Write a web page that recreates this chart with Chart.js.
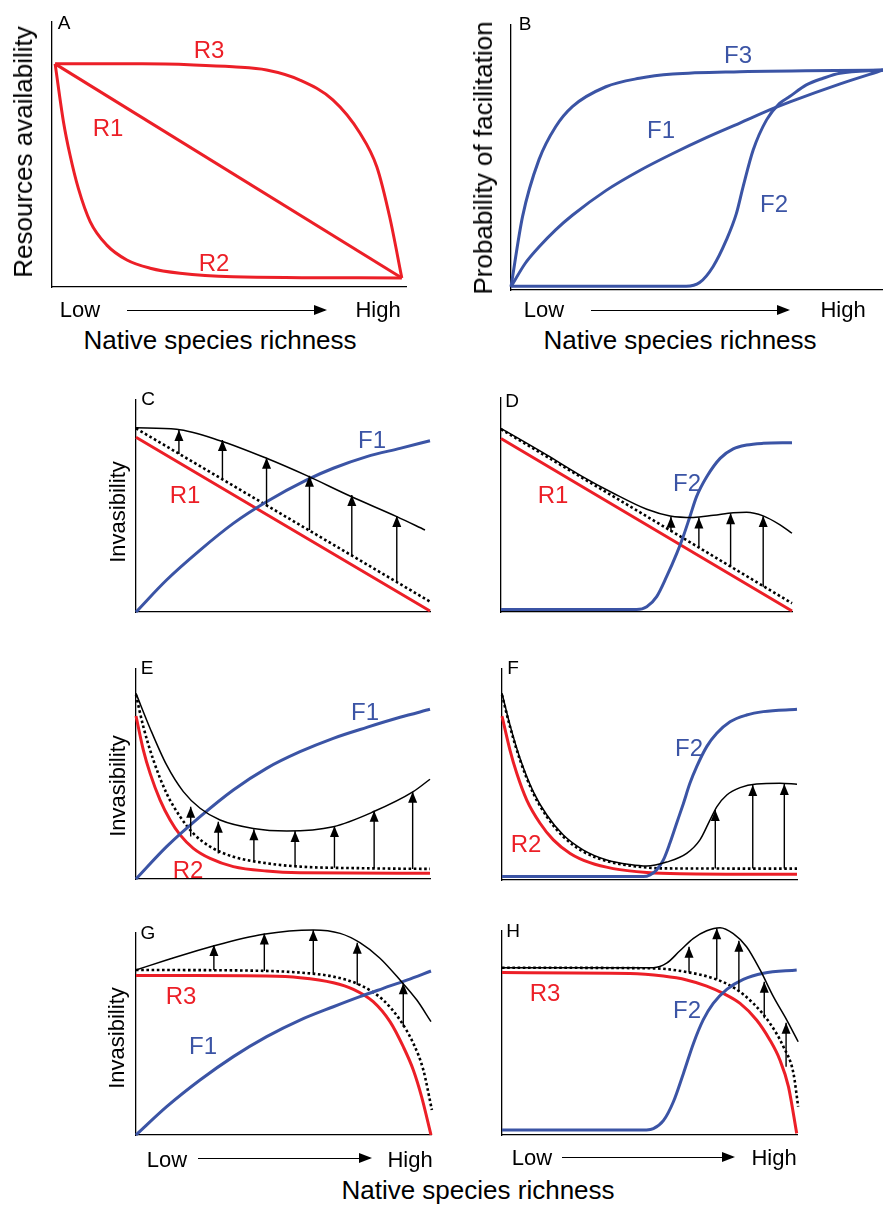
<!DOCTYPE html>
<html>
<head>
<meta charset="utf-8">
<script src="https://cdn.jsdelivr.net/npm/chart.js@4.4.1/dist/chart.umd.min.js"></script>
<style>
body { margin: 0; background: #fff; width: 883px; height: 1209px; position: relative; overflow: hidden;
  font-family: "Liberation Sans", Arial, sans-serif; }
canvas { position: absolute; }
.t { position: absolute; transform: translate(-50%, -50%); white-space: nowrap; line-height: 1; }
.arr { position: absolute; height: 0; border-top: 1.5px solid #000; }
.arr:after { content: ""; position: absolute; right: -2px; top: -5.75px; border-left: 13px solid #000;
  border-top: 5px solid transparent; border-bottom: 5px solid transparent; }
</style>
</head>
<body>
<script>
// curves as [x, y] pairs, x: low -> high richness (0..10), y: 0..10
const aR1 = [[0, 8.42], [10, 0.34]];
const aR2 = [[0, 8.42], [0.24, 6.24], [0.43, 4.98], [0.67, 3.72], [1.01, 2.47], [1.49, 1.58], [2.07, 1.02], [2.74, 0.71], [3.6, 0.52], [5.13, 0.39], [10, 0.34]];
const aR3 = [[0, 8.42], [2.5, 8.42], [4, 8.38], [5.13, 8.31], [6.1, 8.19], [7.06, 7.81], [8.01, 7.06], [8.79, 5.81], [9.28, 4.53], [9.65, 2.64], [10, 0.34]];

const bF1 = [[0, 0.12], [0.38, 1.0], [0.75, 1.62], [1.2, 2.27], [1.65, 2.82], [2.55, 3.75], [3.45, 4.5], [4.35, 5.15], [5.25, 5.75], [6.15, 6.3], [7.05, 6.85], [7.5, 7.1], [8.85, 7.78], [10, 8.3]];
const bF2 = [[0, 0.14], [4.71, 0.14], [5.07, 0.28], [5.43, 0.88], [5.79, 1.89], [6.06, 2.89], [6.24, 3.9], [6.51, 5.28], [6.87, 6.42], [7.22, 7.04], [7.49, 7.3], [7.94, 7.74], [8.39, 7.99], [8.84, 8.18], [10, 8.3]];
const bF3 = [[0, 0.12], [0.31, 2.77], [0.75, 4.91], [1.2, 6.16], [1.65, 6.92], [2.55, 7.67], [3.45, 7.99], [4.35, 8.15], [6.15, 8.24], [10, 8.3]];

const cR1 = [[0, 8.24], [10, 0.05]];
const cDot = [[0, 8.66], [10, 0.49]];
const cInv = [[0, 8.69], [1.38, 8.62], [2.86, 8.08], [4.44, 7.25], [5.81, 6.43], [7.28, 5.47], [8.87, 4.5], [9.83, 3.87]];
const cF1 = [[0, 0], [1.04, 1.51], [2.18, 2.92], [3.31, 4.18], [4.44, 5.2], [5.81, 6.23], [6.71, 6.78], [7.85, 7.33], [8.98, 7.72], [10, 8.08]];
const cArrows = [[1.46, 7.45, 8.58], [2.94, 6.31, 8.11], [4.44, 5.0, 7.28], [5.9, 3.87, 6.43], [7.34, 2.69, 5.52], [8.87, 1.45, 4.53]];

const dR1 = [[0, 8.11], [10, 0.05]];
const dDot = [[0, 8.54], [10, 0.41]];
const dInv = [[0, 8.58], [1.57, 7.34], [2.71, 6.4], [3.86, 5.55], [5.01, 4.8], [5.81, 4.49], [6.61, 4.42], [7.3, 4.52], [7.98, 4.64], [8.44, 4.66], [9.01, 4.49], [9.59, 4.07], [10, 3.68]];
const dF2 = [[0, 0.12], [4.66, 0.12], [5.01, 0.25], [5.35, 0.72], [5.69, 1.65], [6.04, 2.74], [6.26, 3.52], [6.49, 4.45], [6.72, 5.39], [7.07, 6.32], [7.53, 7.18], [7.98, 7.62], [8.44, 7.8], [9.01, 7.88], [10, 7.91]];
const dArrows = [[5.84, 3.75, 4.45], [6.8, 3.02, 4.42], [7.89, 2.12, 4.61], [9.01, 1.18, 4.49]];

const eR2 = [[0, 7.76], [0.25, 6.14], [0.48, 5.03], [0.82, 3.76], [1.16, 2.81], [1.5, 2.1], [1.95, 1.46], [2.52, 0.98], [3.31, 0.59], [4.44, 0.38], [5.58, 0.3], [10, 0.27]];
const eDot = [[0, 8.76], [0.25, 7.25], [0.59, 5.67], [1.04, 4.08], [1.5, 2.97], [1.95, 2.17], [2.52, 1.54], [3.31, 1.06], [4.44, 0.75], [5.58, 0.59], [7.85, 0.51], [10, 0.48]];
const eInv = [[0, 8.84], [0.48, 7.17], [1.04, 5.43], [1.61, 4.16], [2.18, 3.37], [2.86, 2.81], [3.99, 2.41], [5.13, 2.29], [6.71, 2.49], [8.07, 3.2], [9.43, 4.16], [10, 4.75]];
const eF1 = [[0, 0], [1.04, 1.54], [2.18, 2.97], [3.31, 4.24], [4.44, 5.27], [5.58, 6.06], [6.71, 6.7], [7.85, 7.22], [8.98, 7.7], [10, 8.08]];
const eArrows = [[1.86, 2.02, 3.44], [2.8, 1.22, 2.73], [4.01, 0.83, 2.37], [5.41, 0.59, 2.29], [6.75, 0.54, 2.52], [8.1, 0.51, 3.25], [9.41, 0.48, 4.16]];

const fR2 = [[0, 7.77], [0.27, 6.16], [0.5, 5.06], [0.84, 3.79], [1.29, 2.69], [1.74, 1.9], [2.31, 1.26], [2.98, 0.82], [3.77, 0.54], [4.91, 0.36], [6.03, 0.3], [10, 0.27]];
const fDot = [[0, 8.77], [0.27, 7.27], [0.61, 5.69], [1.06, 4.11], [1.52, 3.0], [2.08, 2.05], [2.76, 1.34], [3.55, 0.9], [4.34, 0.68], [5.47, 0.55], [10, 0.54]];
const fInv = [[0, 8.85], [0.27, 7.35], [0.61, 5.77], [1.06, 4.19], [1.52, 3.08], [2.08, 2.13], [2.76, 1.42], [3.55, 0.95], [4.34, 0.73], [4.9, 0.66], [5.58, 0.85], [6.26, 1.26], [6.71, 1.9], [7.05, 2.84], [7.28, 3.47], [7.62, 4.03], [8.07, 4.38], [8.63, 4.55], [9.42, 4.58], [10, 4.54]];
const fF2 = [[0, 0.16], [4.79, 0.16], [5.02, 0.24], [5.24, 0.47], [5.47, 0.95], [5.69, 1.74], [5.92, 2.69], [6.15, 3.63], [6.37, 4.58], [6.6, 5.37], [6.94, 6.32], [7.28, 6.95], [7.73, 7.5], [8.29, 7.82], [8.86, 7.98], [10, 8.09]];
const fArrows = [[7.23, 0.54, 3.32], [8.5, 0.54, 4.5], [9.57, 0.54, 4.55]];

const gR3 = [[0, 7.89], [2, 7.89], [4.43, 7.87], [5.56, 7.79], [6.69, 7.54], [7.37, 7.21], [8.04, 6.6], [8.61, 5.61], [9.06, 4.37], [9.4, 3.22], [9.68, 1.9], [10, 0]];
const gDot = [[0, 8.17], [3.86, 8.14], [5.56, 8.04], [6.69, 7.84], [7.59, 7.43], [8.38, 6.68], [8.95, 5.69], [9.4, 4.54], [9.74, 3.22], [10.03, 1.24]];
const gInv = [[0, 8.17], [1.04, 8.66], [2.62, 9.36], [4.32, 9.94], [6.01, 10.15], [6.92, 9.98], [7.59, 9.52], [8.27, 8.75], [8.95, 7.67], [9.52, 6.68], [10, 5.61]];
const gF1 = [[0, 0], [1.04, 1.4], [2.17, 2.72], [3.3, 3.88], [4.43, 4.87], [5.56, 5.69], [6.69, 6.35], [7.59, 6.85], [8.38, 7.26], [9.18, 7.67], [10, 8.12]];
const gArrows = [[2.64, 8.17, 9.41], [4.35, 8.12, 9.98], [6.01, 8.0, 10.15], [7.5, 7.43, 9.52], [9.06, 5.36, 7.51]];

const hR3 = [[0, 7.96], [4.34, 7.92], [5.47, 7.79], [6.26, 7.6], [6.94, 7.3], [7.5, 6.94], [8.07, 6.45], [8.63, 5.64], [9.08, 4.66], [9.42, 3.68], [9.71, 2.37], [9.99, 0.08]];
const hDot = [[0, 8.2], [5.13, 8.17], [6.26, 7.99], [7.16, 7.68], [7.84, 7.24], [8.52, 6.45], [9.08, 5.48], [9.54, 4.33], [9.88, 3.02], [10.04, 1.39]];
const hInv = [[0, 8.2], [5.13, 8.2], [5.58, 8.42], [6.03, 9.03], [6.49, 9.64], [6.94, 10.01], [7.39, 10.16], [7.84, 9.87], [8.29, 9.23], [8.75, 8.09], [9.2, 6.78], [9.65, 5.64], [10.04, 4.57]];
const hF2 = [[0, 0.25], [4.9, 0.25], [5.13, 0.31], [5.47, 0.7], [5.81, 1.63], [6.15, 3.02], [6.49, 4.49], [6.82, 5.64], [7.16, 6.45], [7.62, 7.14], [8.18, 7.63], [8.86, 7.93], [9.99, 8.09]];
const hArrows = [[6.34, 7.96, 9.23], [7.28, 7.63, 10.13], [8.03, 7.02, 9.52], [8.89, 5.72, 7.51], [9.63, 3.35, 5.5]];

const RED = '#ec1f27';
const BLUE = '#3b54a5';
const M = 20;

// draws the filled head on top of each arrow shaft
const arrowHeads = {
    id: 'arrowHeads',
    afterDatasetsDraw(chart) {
        const ctx = chart.ctx;
        chart.data.datasets.forEach((ds, i) => {
            if (!ds.arrows) return;
            chart.getDatasetMeta(i).data.forEach((pt, j) => {
                if (j % 3 !== 1) return;
                ctx.save();
                ctx.fillStyle = '#000';
                ctx.beginPath();
                ctx.moveTo(pt.x, pt.y);
                ctx.lineTo(pt.x - 4.5, pt.y + 11);
                ctx.lineTo(pt.x + 4.5, pt.y + 11);
                ctx.closePath();
                ctx.fill();
                ctx.restore();
            });
        });
    }
};

const curve = (pts, color, width, dash) => ({
    data: pts.map(p => ({x: p[0], y: p[1]})),
    borderColor: color,
    borderWidth: width,
    borderDash: dash || [],
    pointRadius: 0,
    cubicInterpolationMode: 'monotone',
    clip: false
});

const arrowSet = (arr) => ({
    data: arr.flatMap(a => [{x: a[0], y: a[1]}, {x: a[0], y: a[2]}, {x: a[0], y: null}]),
    borderColor: '#000',
    borderWidth: 1.4,
    pointRadius: 0,
    spanGaps: false,
    clip: false,
    arrows: true
});

const axis = (min, max) => ({
    type: 'linear', min: min, max: max,
    grid: {display: false, drawTicks: false},
    ticks: {display: false},
    border: {display: true, color: '#000', width: 1.3}
});

function makePanel(box, datasets) {
    const c = document.createElement('canvas');
    const w = box.right - box.left + 2 * M, h = box.bottom - box.top + 2 * M;
    c.width = w; c.height = h;
    c.style.left = (box.left - M) + 'px';
    c.style.top = (box.top - M) + 'px';
    document.body.appendChild(c);
    new Chart(c, {
        type: 'line',
        data: {datasets: datasets},
        options: {
            responsive: false,
            animation: false,
            events: [],
            layout: {padding: M},
            scales: {x: axis(box.xMin ?? 0, box.xMax ?? 10), y: axis(0, 10)},
            plugins: {legend: {display: false}, tooltip: {enabled: false}}
        },
        plugins: [arrowHeads]
    });
}

const solid = 3, thin = 1.5, dotW = 2.6, dots = [2.6, 2.6];

makePanel({left: 52, top: 22, right: 406, bottom: 287, xMin: -0.09, xMax: 10.12},
    [curve(aR1, RED, solid), curve(aR2, RED, solid), curve(aR3, RED, solid)]);
makePanel({left: 511, top: 25, right: 883, bottom: 290},
    [curve(bF1, BLUE, solid), curve(bF2, BLUE, solid), curve(bF3, BLUE, solid)]);
makePanel({left: 136, top: 400, right: 430, bottom: 612},
    [arrowSet(cArrows), curve(cInv, '#000', thin), curve(cF1, BLUE, solid), curve(cDot, '#000', dotW, dots), curve(cR1, RED, solid)]);
makePanel({left: 501, top: 398, right: 792, bottom: 612},
    [arrowSet(dArrows), curve(dInv, '#000', thin), curve(dF2, BLUE, solid), curve(dDot, '#000', dotW, dots), curve(dR1, RED, solid)]);
makePanel({left: 136, top: 669, right: 430, bottom: 879},
    [arrowSet(eArrows), curve(eInv, '#000', thin), curve(eF1, BLUE, solid), curve(eDot, '#000', dotW, dots), curve(eR2, RED, solid)]);
makePanel({left: 502, top: 669, right: 797, bottom: 880},
    [arrowSet(fArrows), curve(fInv, '#000', thin), curve(fF2, BLUE, solid), curve(fDot, '#000', dotW, dots), curve(fR2, RED, solid)]);
makePanel({left: 136, top: 933, right: 431, bottom: 1135},
    [arrowSet(gArrows), curve(gInv, '#000', thin), curve(gF1, BLUE, solid), curve(gDot, '#000', dotW, dots), curve(gR3, RED, solid)]);
makePanel({left: 502, top: 931, right: 797, bottom: 1135},
    [arrowSet(hArrows), curve(hInv, '#000', thin), curve(hF2, BLUE, solid), curve(hDot, '#000', dotW, dots), curve(hR3, RED, solid)]);

// text: [text, x, y, size, color, rotated]
const labels = [
    ['A', 64, 22, 19, '#000'], ['B', 525, 23, 19, '#000'], ['C', 148, 398, 19, '#000'], ['D', 512, 400, 19, '#000'],
    ['E', 147, 667, 19, '#000'], ['F', 513, 667, 19, '#000'], ['G', 148, 932, 19, '#000'], ['H', 513, 930, 19, '#000'],
    ['R3', 209, 50, 24, RED], ['R1', 108, 128, 24, RED], ['R2', 214, 263, 24, RED],
    ['F3', 738, 55, 24, BLUE], ['F1', 661, 130, 24, BLUE], ['F2', 774, 204, 24, BLUE],
    ['R1', 185, 495, 24, RED], ['F1', 372, 440, 24, BLUE],
    ['R1', 553, 495, 24, RED], ['F2', 687, 483, 24, BLUE],
    ['F1', 365, 712, 24, BLUE], ['R2', 188, 870, 24, RED],
    ['F2', 689, 748, 24, BLUE], ['R2', 526, 844, 24, RED],
    ['R3', 181, 996, 24, RED], ['F1', 203, 1046, 24, BLUE],
    ['R3', 545, 993, 24, RED], ['F2', 687, 1010, 24, BLUE],
    ['Resources availability', 23, 152, 26, '#000', true],
    ['Probability of facilitation', 483, 158, 26, '#000', true],
    ['Invasibility', 118, 512, 22, '#000', true], ['Invasibility', 118, 786, 22, '#000', true],
    ['Invasibility', 117, 1038, 22, '#000', true],
    ['Native species richness', 220, 340, 26, '#000'], ['Native species richness', 680, 340, 26, '#000'],
    ['Native species richness', 478, 1190, 26, '#000'],
    ['Low', 80, 310, 22, '#000'], ['High', 378, 310, 22, '#000'],
    ['Low', 544, 310, 22, '#000'], ['High', 843, 310, 22, '#000'],
    ['Low', 167, 1160, 22, '#000'], ['High', 410, 1160, 22, '#000'],
    ['Low', 532, 1158, 22, '#000'], ['High', 774, 1158, 22, '#000']
];
labels.forEach(l => {
    const d = document.createElement('div');
    d.className = 't';
    d.textContent = l[0];
    d.style.left = l[1] + 'px';
    d.style.top = l[2] + 'px';
    d.style.fontSize = l[3] + 'px';
    d.style.color = l[4];
    if (l[5]) d.style.transform = 'translate(-50%, -50%) rotate(-90deg)';
    document.body.appendChild(d);
});

// Low -> High arrows: [x1, x2, y]
[[127, 325, 310], [591, 788, 310], [198, 370, 1158], [562, 733, 1157]].forEach(a => {
    const d = document.createElement('div');
    d.className = 'arr';
    d.style.left = a[0] + 'px';
    d.style.width = (a[1] - a[0]) + 'px';
    d.style.top = a[2] + 'px';
    document.body.appendChild(d);
});
</script>
</body>
</html>
